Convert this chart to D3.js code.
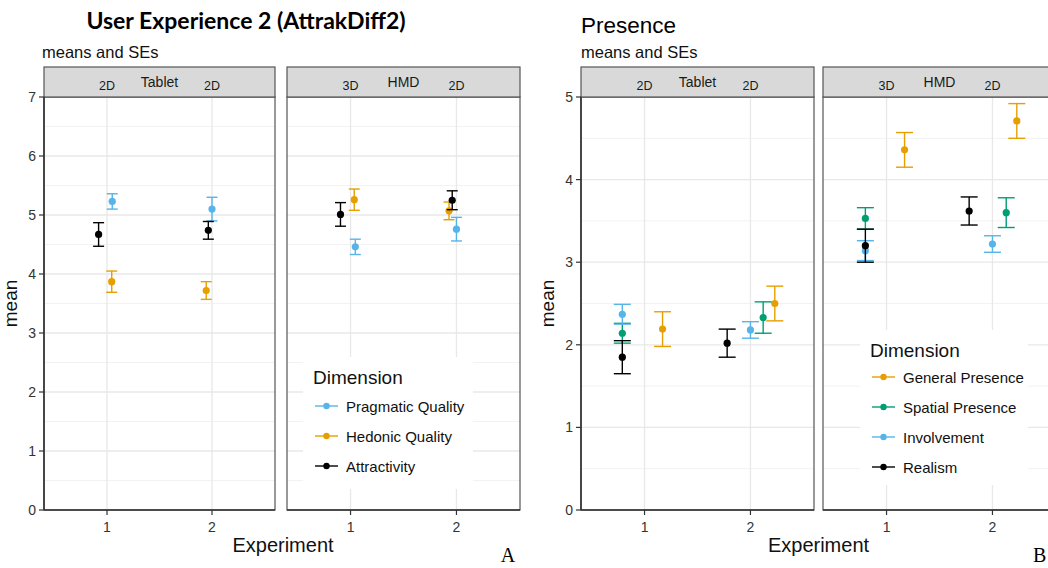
<!DOCTYPE html>
<html>
<head>
<meta charset="utf-8">
<script src="https://d3js.org/d3.v7.min.js"></script>
<style>
  body { margin: 0; background: #fff; }
  svg { display: block; font-family: "Liberation Sans", Arial, sans-serif; }
</style>
</head>
<body>
<div id="chart"></div>
<script>
  // ---- data (order of each array: Tablet exp 1, Tablet exp 2, HMD exp 1, HMD exp 2) ----
  var experiments = [1, 2];
  var panels = ["Tablet", "HMD"];
  var stripLeft = ["2D", "3D"];
  var stripRight = ["2D", "2D"];

  // User Experience (AttrakDiff2)
  var uxSeries = ["Pragmatic Quality", "Hedonic Quality", "Attractivity"];
  var uxPragmaticMean = [5.23, 5.10, 4.46, 4.76];
  var uxPragmaticSE = [0.13, 0.20, 0.13, 0.20];
  var uxPragmaticDodge = [0.05, 0.0, 0.045, 0.0];
  var uxHedonicMean = [3.87, 3.72, 5.26, 5.07];
  var uxHedonicSE = [0.18, 0.15, 0.18, 0.15];
  var uxHedonicDodge = [0.045, -0.055, 0.035, -0.07];
  var uxAttractMean = [4.67, 4.74, 5.01, 5.25];
  var uxAttractSE = [0.20, 0.15, 0.20, 0.16];
  var uxAttractDodge = [-0.08, -0.035, -0.095, -0.04];
  var uxTicks = [0, 1, 2, 3, 4, 5, 6, 7];

  // Presence
  var prSeries = ["General Presence", "Spatial Presence", "Involvement", "Realism"];
  var prGeneralMean = [2.19, 2.50, 4.36, 4.71];
  var prGeneralSE = [0.21, 0.21, 0.21, 0.21];
  var prGeneralDodge = [0.17, 0.23, 0.17, 0.23];
  var prSpatialMean = [2.14, 2.33, 3.53, 3.60];
  var prSpatialSE = [0.12, 0.19, 0.13, 0.18];
  var prSpatialDodge = [-0.21, 0.12, -0.2, 0.13];
  var prInvolveMean = [2.37, 2.18, 3.14, 3.22];
  var prInvolveSE = [0.12, 0.10, 0.12, 0.10];
  var prInvolveDodge = [-0.21, 0.0, -0.2, 0.0];
  var prRealismMean = [1.85, 2.02, 3.20, 3.62];
  var prRealismSE = [0.20, 0.17, 0.20, 0.17];
  var prRealismDodge = [-0.21, -0.22, -0.2, -0.22];
  var prTicks = [0, 1, 2, 3, 4, 5];

  // build rows for one series
  function rows(name, means, ses, dodges) {
    return means.map(function(m, i) {
      return {
        series: name,
        panel: panels[Math.floor(i / 2)],
        exp: experiments[i % 2],
        mean: m,
        se: ses[i],
        dodge: dodges[i]
      };
    });
  }

  var uxData = [].concat(
    rows(uxSeries[0], uxPragmaticMean, uxPragmaticSE, uxPragmaticDodge),
    rows(uxSeries[1], uxHedonicMean, uxHedonicSE, uxHedonicDodge),
    rows(uxSeries[2], uxAttractMean, uxAttractSE, uxAttractDodge)
  );

  var prData = [].concat(
    rows(prSeries[0], prGeneralMean, prGeneralSE, prGeneralDodge),
    rows(prSeries[1], prSpatialMean, prSpatialSE, prSpatialDodge),
    rows(prSeries[2], prInvolveMean, prInvolveSE, prInvolveDodge),
    rows(prSeries[3], prRealismMean, prRealismSE, prRealismDodge)
  );

  var svg = d3.select("#chart")
    .append("svg")
    .attr("width", 1048)
    .attr("height", 568);

  function drawChart(cfg) {
    var g = svg.append("g");
    var color = d3.scaleOrdinal().domain(cfg.series).range(cfg.colors);

    var yScale = d3.scaleLinear()
      .domain([0, cfg.yMax])
      .range([cfg.bottom, cfg.top]);

    var minorTicks = d3.range(0.5, cfg.yMax, 1);

    cfg.panelX.forEach(function(px, pi) {
      var xScale = d3.scaleLinear()
        .domain([0.4, 2.6])
        .range(px);
      var pg = g.append("g");
      var w = px[1] - px[0];

      // clip to panel
      var clipId = "clip-" + cfg.id + "-" + pi;
      pg.append("clipPath").attr("id", clipId)
        .append("rect")
        .attr("x", px[0]).attr("y", cfg.top)
        .attr("width", w).attr("height", cfg.bottom - cfg.top);

      var inner = pg.append("g").attr("clip-path", "url(#" + clipId + ")");

      // grid
      inner.selectAll(".minor").data(minorTicks).enter().append("line")
        .attr("x1", px[0]).attr("x2", px[1])
        .attr("y1", function(d) { return yScale(d); })
        .attr("y2", function(d) { return yScale(d); })
        .attr("stroke", "#f2f2f2").attr("stroke-width", 1);

      inner.selectAll(".major").data(cfg.ticks).enter().append("line")
        .attr("x1", px[0]).attr("x2", px[1])
        .attr("y1", function(d) { return yScale(d); })
        .attr("y2", function(d) { return yScale(d); })
        .attr("stroke", "#e8e8e8").attr("stroke-width", 1.3);

      inner.selectAll(".vmajor").data(experiments).enter().append("line")
        .attr("x1", function(d) { return xScale(d); })
        .attr("x2", function(d) { return xScale(d); })
        .attr("y1", cfg.top).attr("y2", cfg.bottom)
        .attr("stroke", "#e8e8e8").attr("stroke-width", 1.3);

      // points + error bars
      var pdata = cfg.data.filter(function(d) { return d.panel === panels[pi]; });
      var bars = inner.selectAll(".bar").data(pdata).enter().append("g");

      bars.append("line")
        .attr("x1", function(d) { return xScale(d.exp + d.dodge); })
        .attr("x2", function(d) { return xScale(d.exp + d.dodge); })
        .attr("y1", function(d) { return yScale(d.mean - d.se); })
        .attr("y2", function(d) { return yScale(d.mean + d.se); })
        .attr("stroke", function(d) { return color(d.series); })
        .attr("stroke-width", 1.4);

      [-1, 1].forEach(function(s) {
        bars.append("line")
          .attr("x1", function(d) { return xScale(d.exp + d.dodge) - cfg.cap / 2; })
          .attr("x2", function(d) { return xScale(d.exp + d.dodge) + cfg.cap / 2; })
          .attr("y1", function(d) { return yScale(d.mean + s * d.se); })
          .attr("y2", function(d) { return yScale(d.mean + s * d.se); })
          .attr("stroke", function(d) { return color(d.series); })
          .attr("stroke-width", 1.4);
      });

      bars.append("circle")
        .attr("cx", function(d) { return xScale(d.exp + d.dodge); })
        .attr("cy", function(d) { return yScale(d.mean); })
        .attr("r", 3.6)
        .attr("fill", function(d) { return color(d.series); });

      // panel border
      pg.append("rect")
        .attr("x", px[0]).attr("y", cfg.top)
        .attr("width", w).attr("height", cfg.bottom - cfg.top)
        .attr("fill", "none")
        .attr("stroke", "#555").attr("stroke-width", 1.2);

      // bottom axis line + ticks
      pg.append("line")
        .attr("x1", px[0]).attr("x2", px[1])
        .attr("y1", cfg.bottom).attr("y2", cfg.bottom)
        .attr("stroke", "#333").attr("stroke-width", 1.6);

      pg.selectAll(".xt").data(experiments).enter().append("line")
        .attr("x1", function(d) { return xScale(d); })
        .attr("x2", function(d) { return xScale(d); })
        .attr("y1", cfg.bottom).attr("y2", cfg.bottom + 5)
        .attr("stroke", "#333").attr("stroke-width", 1.2);

      pg.selectAll(".xl").data(experiments).enter().append("text")
        .attr("x", function(d) { return xScale(d); })
        .attr("y", cfg.bottom + 22)
        .attr("text-anchor", "middle")
        .attr("font-size", 14)
        .attr("fill", "#333")
        .text(function(d) { return d; });

      // strip
      pg.append("rect")
        .attr("x", px[0]).attr("y", cfg.stripTop)
        .attr("width", w).attr("height", cfg.top - cfg.stripTop)
        .attr("fill", "#d9d9d9")
        .attr("stroke", "#555").attr("stroke-width", 1.2);

      pg.append("text")
        .attr("x", xScale(1.5)).attr("y", cfg.top - 10)
        .attr("text-anchor", "middle")
        .attr("font-size", 14)
        .attr("fill", "#1a1a1a")
        .text(panels[pi]);

      pg.append("text")
        .attr("x", xScale(1)).attr("y", cfg.top - 7)
        .attr("text-anchor", "middle")
        .attr("font-size", 12.5)
        .attr("fill", "#1a1a1a")
        .text(stripLeft[pi]);

      pg.append("text")
        .attr("x", xScale(2)).attr("y", cfg.top - 7)
        .attr("text-anchor", "middle")
        .attr("font-size", 12.5)
        .attr("fill", "#1a1a1a")
        .text(stripRight[pi]);
    });

    // y axis
    var left = cfg.panelX[0][0];
    g.append("line")
      .attr("x1", left).attr("x2", left)
      .attr("y1", cfg.top).attr("y2", cfg.bottom)
      .attr("stroke", "#333").attr("stroke-width", 1.6);

    g.selectAll(".yt").data(cfg.ticks).enter().append("line")
      .attr("x1", left - 5).attr("x2", left)
      .attr("y1", function(d) { return yScale(d); })
      .attr("y2", function(d) { return yScale(d); })
      .attr("stroke", "#333").attr("stroke-width", 1.2);

    g.selectAll(".yl").data(cfg.ticks).enter().append("text")
      .attr("x", left - 8)
      .attr("y", function(d) { return yScale(d) + 5; })
      .attr("text-anchor", "end")
      .attr("font-size", 14)
      .attr("fill", "#333")
      .text(function(d) { return d; });

    // axis titles
    g.append("text")
      .attr("transform", "translate(" + (left - cfg.yTitleGap) + "," + ((cfg.top + cfg.bottom) / 2) + ") rotate(-90)")
      .attr("text-anchor", "middle")
      .attr("font-size", 19)
      .attr("fill", "#111")
      .text("mean");

    g.append("text")
      .attr("x", (cfg.panelX[0][0] + cfg.panelX[1][1]) / 2 + cfg.xTitleShift)
      .attr("y", 552)
      .attr("text-anchor", "middle")
      .attr("font-size", 20)
      .attr("fill", "#111")
      .text("Experiment");

    // subtitle + title
    g.append("text")
      .attr("x", cfg.subX).attr("y", 58)
      .attr("font-size", 16.5)
      .attr("fill", "#111")
      .text("means and SEs");

    g.append("text")
      .attr("x", cfg.titleX).attr("y", cfg.titleY)
      .attr("text-anchor", cfg.titleAnchor)
      .attr("font-size", cfg.titleSize)
      .attr("font-weight", cfg.titleWeight)
      .attr("font-family", cfg.titleFont)
      .attr("fill", "#000")
      .text(cfg.title);

    // legend
    var lg = g.append("g");
    lg.append("rect")
      .attr("x", cfg.legend.x).attr("y", cfg.legend.y)
      .attr("width", cfg.legend.w).attr("height", cfg.legend.h)
      .attr("fill", "#fff");

    lg.append("text")
      .attr("x", cfg.legend.x + 10).attr("y", cfg.legend.y + 27)
      .attr("font-size", 19)
      .attr("fill", "#111")
      .text("Dimension");

    var items = lg.selectAll(".item").data(cfg.series).enter().append("g")
      .attr("transform", function(d, i) {
        return "translate(" + (cfg.legend.x + 12) + "," + (cfg.legend.y + cfg.legend.first + i * 30) + ")";
      });

    items.append("line")
      .attr("x1", 0).attr("x2", 23)
      .attr("stroke", function(d) { return color(d); })
      .attr("stroke-width", 1.4);

    items.append("circle")
      .attr("cx", 11.5).attr("r", 3.2)
      .attr("fill", function(d) { return color(d); });

    items.append("text")
      .attr("x", 31).attr("y", 5.5)
      .attr("font-size", 15)
      .attr("fill", "#111")
      .text(function(d) { return d; });
  }

  drawChart({
    id: "ux",
    data: uxData,
    series: uxSeries,
    colors: ["#56B4E9", "#E69F00", "#000000"],
    yMax: 7,
    ticks: uxTicks,
    top: 97,
    bottom: 510,
    stripTop: 67,
    panelX: [[44, 275], [287, 520]],
    cap: 11,
    xTitleShift: 1,
    yTitleGap: 27,
    subX: 42,
    title: "User Experience 2 (AttrakDiff2)",
    titleX: 246, titleY: 29, titleAnchor: "middle",
    titleSize: 23, titleWeight: "bold", titleFont: "Lato, 'Open Sans', sans-serif",
    legend: { x: 303, y: 357, w: 170, h: 132, first: 49 }
  });

  drawChart({
    id: "pr",
    data: prData,
    series: prSeries,
    colors: ["#E69F00", "#009E73", "#56B4E9", "#000000"],
    yMax: 5,
    ticks: prTicks,
    top: 97,
    bottom: 510,
    stripTop: 67,
    panelX: [[581, 814], [823, 1056]],
    cap: 17,
    xTitleShift: 0,
    yTitleGap: 27,
    subX: 581,
    title: "Presence",
    titleX: 581, titleY: 33, titleAnchor: "start",
    titleSize: 22.5, titleWeight: "normal", titleFont: "'Liberation Sans', Arial, sans-serif",
    legend: { x: 860, y: 330, w: 168, h: 155, first: 47 }
  });

  // panel letters
  svg.append("text")
    .attr("x", 508).attr("y", 562)
    .attr("text-anchor", "middle")
    .attr("font-family", "'Liberation Serif', 'Times New Roman', serif")
    .attr("font-size", 20)
    .text("A");

  svg.append("text")
    .attr("x", 1033).attr("y", 562)
    .attr("font-family", "'Liberation Serif', 'Times New Roman', serif")
    .attr("font-size", 20)
    .text("B");
</script>
</body>
</html>
